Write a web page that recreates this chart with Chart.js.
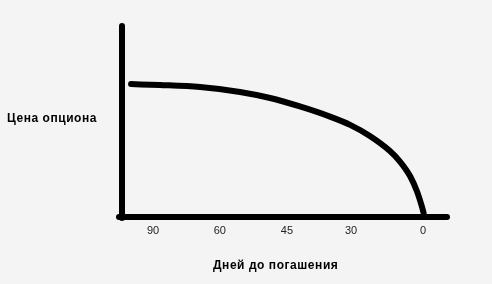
<!DOCTYPE html>
<html lang="ru">
<head>
    <meta charset="UTF-8">
    <script src="https://cdn.jsdelivr.net/npm/chart.js"></script>
    <title>Цена опциона</title>
    <style>
        body {
            margin: 0;
            background-color: #f4f4f4;
            font-family: "Liberation Sans", Arial, sans-serif;
        }
        .wrap {
            position: relative;
            width: 492px;
            height: 284px;
        }
        .label {
            position: absolute;
            font-size: 12px;
            font-weight: bold;
            letter-spacing: 0.55px;
            color: #000;
            line-height: 14px;
            white-space: nowrap;
        }
        #yLabel { left: 7px; top: 111px; }
        #xLabel { left: 213px; top: 258px; }
    </style>
</head>
<body>
    <div class="wrap">
        <canvas id="grafico" width="492" height="284"></canvas>
        <div class="label" id="yLabel">Цена опциона</div>
        <div class="label" id="xLabel">Дней до погашения</div>
    </div>

    <script>
        // позиции по оси X (условные единицы) и цена опциона
        const posicoes = [2.8, 11.7, 24.1, 36.4, 45.7, 54.9, 64.2, 70.4, 76.5, 82.7, 85.8, 88.9, 91.0, 92.5, 93.1];
        const precos   = [70.7, 70.2, 69.1, 66.5, 63.3, 58.8, 53.4, 49.0, 43.1, 35.1, 29.5, 21.8, 13.8, 5.9, 2.1];

        // подписи оси X
        const tickPos = [9.6, 30.2, 50.9, 70.7, 92.9];
        const tickLabels = ['90', '60', '45', '30', '0'];

        // скругленные концы для линий осей
        const roundCaps = {
            id: 'roundCaps',
            beforeDraw(chart) {
                chart.ctx.lineCap = 'round';
            }
        };

        const ctx = document.getElementById('grafico').getContext('2d');
        new Chart(ctx, {
            type: 'line',
            data: {
                datasets: [{
                    data: posicoes.map((x, i) => ({ x: x, y: precos[i] })),
                    borderColor: '#000',
                    borderWidth: 6,
                    borderCapStyle: 'round',
                    borderJoinStyle: 'round',
                    pointRadius: 0,
                    cubicInterpolationMode: 'monotone',
                    fill: false,
                    clip: 6
                }]
            },
            options: {
                responsive: false,
                animation: false,
                layout: { padding: { left: 122, right: 46, top: 29, bottom: 0 } },
                plugins: {
                    legend: { display: false },
                    tooltip: { enabled: false }
                },
                scales: {
                    x: {
                        type: 'linear',
                        min: 0,
                        max: 100,
                        grid: { display: false, drawTicks: false },
                        border: { display: true, color: '#000', width: 6 },
                        afterBuildTicks: (s) => { s.ticks = tickPos.map(v => ({ value: v })); },
                        afterFit: (s) => { s.height = 67; },
                        ticks: {
                            autoSkip: false,
                            maxRotation: 0,
                            padding: 7,
                            color: '#222',
                            font: { family: 'Liberation Sans', size: 11 },
                            callback: (v, i) => tickLabels[i]
                        }
                    },
                    y: {
                        min: 0,
                        max: 100,
                        grid: { display: false, drawTicks: false },
                        border: { display: true, color: '#000', width: 6 },
                        ticks: { display: false },
                        afterFit: (s) => { s.width = 0; }
                    }
                }
            },
            plugins: [roundCaps]
        });
    </script>
</body>
</html>
